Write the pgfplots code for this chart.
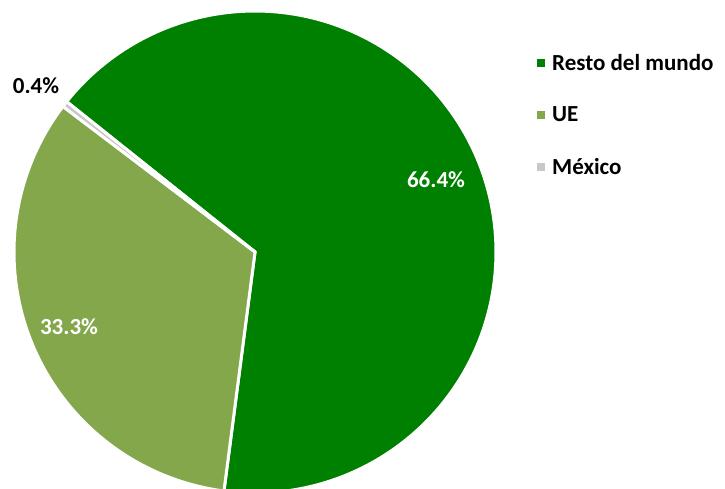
\documentclass[border=0pt]{standalone}
\usepackage{pgfplots}
\pgfplotsset{compat=1.18}
\usepackage{fontspec}
\setmainfont{Carlito}
\definecolor{resto}{RGB}{0,128,0}
\definecolor{ue}{RGB}{132,167,76}
\definecolor{mex}{RGB}{200,200,200}
% shares (percent)
\def\vR{66.4}
\def\vU{33.3}
\def\vM{0.4}
\pgfmathsetmacro{\tot}{\vR+\vU+\vM}
\pgfmathsetmacro{\aO}{141.4}
\pgfmathsetmacro{\aR}{\aO-\vR/\tot*360}
\pgfmathsetmacro{\aU}{\aR-\vU/\tot*360}
\pgfmathsetmacro{\aM}{\aU-\vM/\tot*360}
\def\rad{241}
\begin{document}
\begin{tikzpicture}
\begin{axis}[
  x=1pt, y=1pt,
  xmin=-255, xmax=470, ymin=-236, ymax=252,
  hide axis,
  clip=true,
  samples=150,
  legend cell align=left,
  legend image code/.code={\fill[#1,draw=none] (0pt,-4pt) rectangle (8pt,4pt);},
  legend style={draw=none, fill=none, at={(axis cs:282,198)}, anchor=north west,
    font=\bfseries\fontsize{23}{27}\selectfont, row sep=35pt, inner sep=0pt,
    nodes={inner xsep=7pt, inner ysep=0pt}},
]
\addplot[fill=resto, draw=white, line width=3pt, domain=\aR:\aO]
  ({\rad*cos(x)},{\rad*sin(x)}) -- (axis cs:0,0) -- cycle;
\addplot[fill=ue, draw=white, line width=3pt, domain=\aU:\aR]
  ({\rad*cos(x)},{\rad*sin(x)}) -- (axis cs:0,0) -- cycle;
\addplot[fill=mex, draw=white, line width=3pt, domain=\aM:\aU, samples=5]
  ({\rad*cos(x)},{\rad*sin(x)}) -- (axis cs:0,0) -- cycle;
\legend{Resto del mundo, UE, México}
\node[text=white, font=\bfseries\fontsize{23}{27}\selectfont] at (axis cs:181,72) {66.4\%};
\node[text=white, font=\bfseries\fontsize{23}{27}\selectfont] at (axis cs:-186,-75) {33.3\%};
\node[text=black, font=\bfseries\fontsize{23}{27}\selectfont] at (axis cs:-219,166) {0.4\%};
\end{axis}
\pgfresetboundingbox
\path[use as bounding box] (current axis.south west) rectangle (current axis.north east);
\end{tikzpicture}
\end{document}
